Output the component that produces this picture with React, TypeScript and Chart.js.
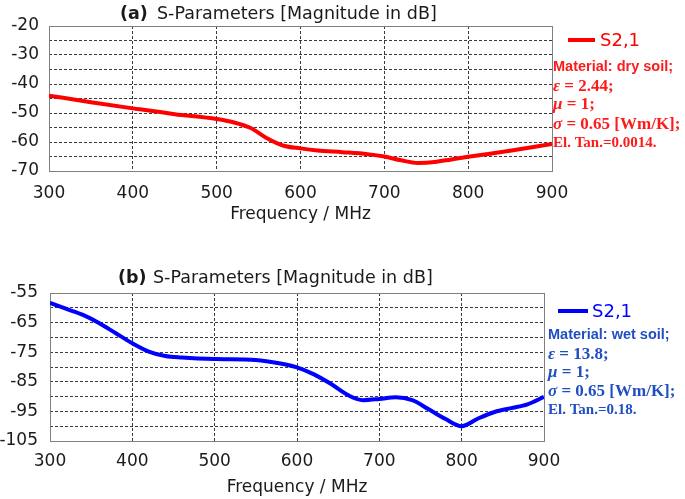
import React, { useEffect, useRef } from "react";
import { Chart, registerables } from "chart.js";

Chart.register(...registerables);

// ---- Data ----
const freqTicks = [300, 400, 500, 600, 700, 800, 900];

const freqA = [300, 350, 400, 450, 500, 520, 540, 560, 580, 600, 620, 650, 680, 700, 720, 740, 760, 780, 800, 850, 900];
const s21A = [-44, -46.3, -48.4, -50.4, -52.1, -53.2, -55.1, -58.7, -61.3, -62.2, -62.9, -63.5, -64.2, -65, -66.3, -67.2, -66.9, -66, -65.1, -63, -60.7];
const yLabelsA = [-20, -30, -40, -50, -60, -70];

const freqB = [300, 320, 340, 360, 380, 400, 420, 440, 460, 500, 550, 580, 600, 620, 640, 664, 680, 700, 720, 740, 760, 780, 800, 820, 840, 860, 880, 900];
const s21B = [-58.3, -60.4, -62.4, -65.2, -68.6, -72, -74.8, -76.3, -76.8, -77.3, -77.6, -78.8, -80.1, -82.4, -85.5, -89.8, -91.2, -90.8, -90.2, -91.2, -94.3, -97.5, -100, -97.4, -95.2, -93.9, -92.6, -90.1];
const yLabelsB = [-55, -65, -75, -85, -95, -105];

const titleText = "S-Parameters [Magnitude in dB]";
const seriesName = "S2,1";
const xTitle = "Frequency / MHz";

const infoA = [
  ["", "Material: dry soil;"],
  ["ε", " = 2.44;"],
  ["μ", " = 1;"],
  ["σ", " = 0.65 [Wm/K];"],
  ["", "El. Tan.=0.0014."],
];
const infoB = [
  ["", "Material: wet soil;"],
  ["ε", " = 13.8;"],
  ["μ", " = 1;"],
  ["σ", " = 0.65 [Wm/K];"],
  ["", "El. Tan.=0.18."],
];

const SANS = '"DejaVu Sans", sans-serif';

type PanelCfg = {
  tag: string;
  freq: number[];
  vals: number[];
  yLabels: number[];
  info: string[][];
  lineColor: string;
  textColor: string;
  height: number;
  padTop: number;
  padRight: number;
  yW: number;
  xH: number;
  tickPadX: number;
  tickPadY: number;
  xTitleBottom: number;
  titleY: number;
  tagX: number;
  titleX: number;
  legX1: number;
  legX2: number;
  legY: number;
  legTextX: number;
  infoX: number;
  infoY: number[];
};

const panelA: PanelCfg = {
  tag: "(a)",
  freq: freqA,
  vals: s21A,
  yLabels: yLabelsA,
  info: infoA,
  lineColor: "#ff0000",
  textColor: "#ff1a1a",
  height: 245,
  padTop: 26,
  padRight: 133,
  yW: 49,
  xH: 74,
  tickPadX: 12,
  tickPadY: 10,
  xTitleBottom: 20,
  titleY: 14,
  tagX: 120,
  titleX: 157,
  legX1: 568,
  legX2: 595,
  legY: 40,
  legTextX: 600,
  infoX: 553,
  infoY: [67, 87, 105, 125, 143],
};

const panelB: PanelCfg = {
  tag: "(b)",
  freq: freqB,
  vals: s21B,
  yLabels: yLabelsB,
  info: infoB,
  lineColor: "#0000ff",
  textColor: "#1f4fc0",
  height: 249,
  padTop: 43,
  padRight: 141,
  yW: 50,
  xH: 58,
  tickPadX: 10,
  tickPadY: 12,
  xTitleBottom: 1,
  titleY: 28,
  tagX: 118,
  titleX: 153,
  legX1: 558,
  legX2: 588,
  legY: 61,
  legTextX: 592,
  infoX: 548,
  infoY: [85, 105, 123, 142, 160],
};

function makeOverlay(p: PanelCfg) {
  return {
    id: "overlay" + p.tag,
    beforeDatasetsDraw(chart: any) {
      const ctx = chart.ctx;
      const ca = chart.chartArea;
      ctx.save();
      ctx.setLineDash([]);
      ctx.strokeStyle = "#808080";
      ctx.lineWidth = 1;
      ctx.strokeRect(Math.round(ca.left) + 0.5, Math.round(ca.top) + 0.5, Math.round(ca.right - ca.left), Math.round(ca.bottom - ca.top));
      ctx.restore();
    },
    afterDraw(chart: any) {
      const ctx = chart.ctx;
      ctx.save();
      ctx.textBaseline = "middle";
      ctx.textAlign = "left";
      // title
      ctx.fillStyle = "#1a1a1a";
      ctx.font = `bold 17.5px ${SANS}`;
      ctx.fillText(p.tag, p.tagX, p.titleY);
      ctx.font = `17.5px ${SANS}`;
      ctx.fillText(titleText, p.titleX, p.titleY);
      // legend
      ctx.strokeStyle = p.lineColor;
      ctx.lineWidth = 4;
      ctx.beginPath();
      ctx.moveTo(p.legX1, p.legY);
      ctx.lineTo(p.legX2, p.legY);
      ctx.stroke();
      ctx.fillStyle = p.lineColor;
      ctx.font = `18px ${SANS}`;
      ctx.fillText(seriesName, p.legTextX, p.legY + 1);
      // info text
      ctx.fillStyle = p.textColor;
      p.info.forEach((line, i) => {
        const y = p.infoY[i];
        let x = p.infoX;
        if (i === 0) {
          ctx.font = 'bold 14.5px "Liberation Sans", sans-serif';
          ctx.fillText(line[1], x, y);
          return;
        }
        if (line[0]) {
          ctx.font = 'italic bold 17px "Liberation Serif", serif';
          ctx.fillText(line[0], x, y);
          x += ctx.measureText(line[0]).width;
          ctx.font = 'bold 17px "Liberation Serif", serif';
          ctx.fillText(line[1], x, y);
        } else {
          ctx.font = 'bold 15px "Liberation Serif", serif';
          ctx.fillText(line[1], x, y);
        }
      });
      ctx.restore();
    },
  };
}

function Panel({ p, top }: { p: PanelCfg; top: number }) {
  const ref = useRef<HTMLCanvasElement | null>(null);
  useEffect(() => {
    if (!ref.current) return;
    const yMax = p.yLabels[0];
    const yMin = p.yLabels[p.yLabels.length - 1];
    const chart = new Chart(ref.current, {
      type: "line",
      data: {
        datasets: [
          {
            label: seriesName,
            data: p.freq.map((f, i) => ({ x: f, y: p.vals[i] })),
            borderColor: p.lineColor,
            borderWidth: 4,
            pointRadius: 0,
            cubicInterpolationMode: "monotone",
            fill: false,
          },
        ],
      },
      options: {
        responsive: false,
        animation: false,
        devicePixelRatio: 1,
        layout: { padding: { left: 0, top: p.padTop, right: p.padRight, bottom: 0 } },
        plugins: { legend: { display: false }, tooltip: { enabled: false }, title: { display: false } },
        scales: {
          x: {
            type: "linear",
            min: freqTicks[0],
            max: freqTicks[freqTicks.length - 1],
            afterBuildTicks: (s: any) => {
              s.ticks = freqTicks.map((v) => ({ value: v }));
            },
            afterFit: (s: any) => {
              s.height = p.xH;
            },
            ticks: {
              autoSkip: false,
              padding: p.tickPadX,
              color: "#1a1a1a",
              font: { family: SANS, size: 17 },
              maxRotation: 0,
              callback: (v: any) => String(v),
            },
            grid: { color: "#3a3a3a", lineWidth: 1, drawTicks: false },
            border: { display: false, dash: [3, 2] },
            title: {
              display: true,
              text: xTitle,
              color: "#1a1a1a",
              font: { family: SANS, size: 17 },
              padding: { top: 0, bottom: p.xTitleBottom },
            },
          },
          y: {
            type: "linear",
            min: yMin,
            max: yMax,
            afterBuildTicks: (s: any) => {
              const t: any[] = [];
              for (let v = yMax; v >= yMin; v -= 5) t.push({ value: v });
              s.ticks = t;
            },
            afterFit: (s: any) => {
              s.width = p.yW;
            },
            ticks: {
              autoSkip: false,
              padding: p.tickPadY,
              color: "#1a1a1a",
              font: { family: SANS, size: 17 },
              callback: (v: any) => (p.yLabels.includes(v) ? String(v) : ""),
            },
            grid: { color: "#3a3a3a", lineWidth: 1, drawTicks: false },
            border: { display: false, dash: [3, 2] },
          },
        },
      } as any,
      plugins: [makeOverlay(p)],
    });
    return () => chart.destroy();
  }, [p]);
  return (
    <canvas
      ref={ref}
      width={685}
      height={p.height}
      style={{ position: "absolute", left: 0, top, width: 685, height: p.height }}
    />
  );
}

export default function App() {
  return (
    <div style={{ position: "absolute", left: 0, top: 0, width: 685, height: 499, background: "#fff" }}>
      <Panel p={panelA} top={0} />
      <Panel p={panelB} top={250} />
    </div>
  );
}
